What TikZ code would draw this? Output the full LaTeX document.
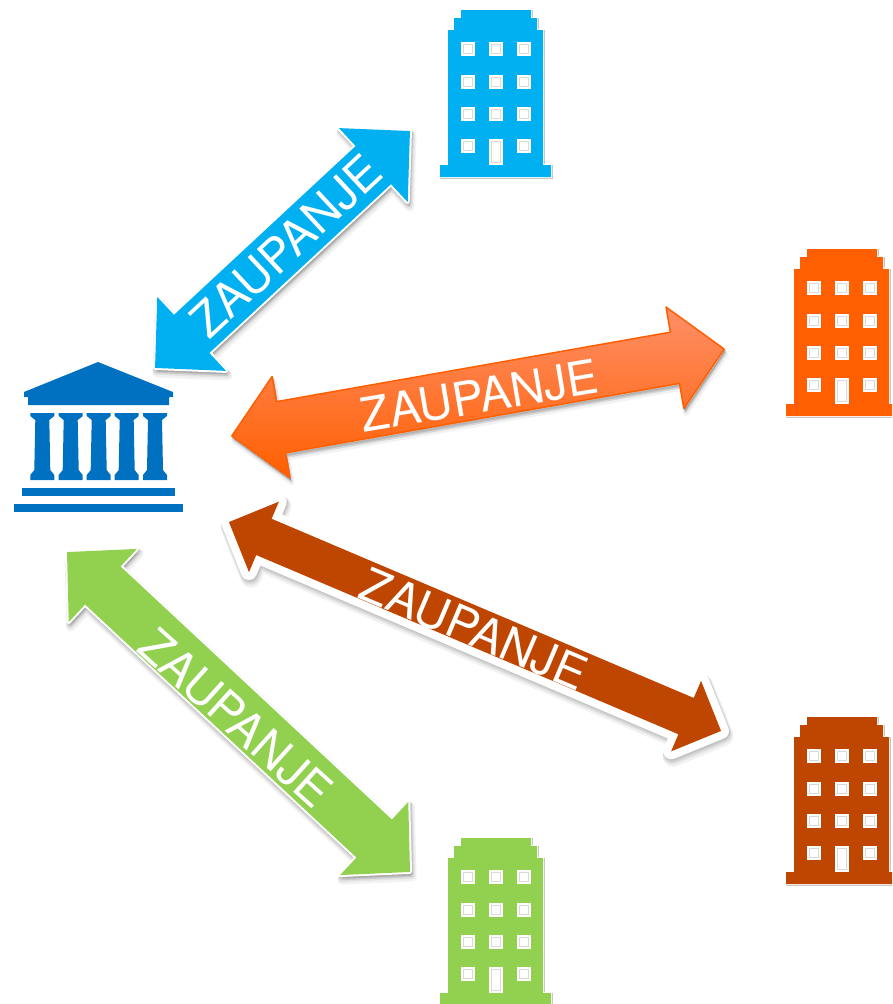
\documentclass[tikz,border=0pt]{standalone}
\usepackage{fontspec}
\setmainfont{TeX Gyre Heros}
\definecolor{cblue}{HTML}{00B0F0}
\definecolor{corange}{HTML}{FF5F00}
\definecolor{corangelt}{HTML}{FF8F68}
\definecolor{cbrown}{HTML}{BF4600}
\definecolor{cgreen}{HTML}{92D050}
\definecolor{ctemple}{HTML}{0070C0}
\newcommand{\arrowoutline}[4]{(-#1,0)--(-#1+#4,-#2)--(-#1+#4,-#3)--(#1-#4,-#3)--(#1-#4,-#2)--(#1,0)--(#1-#4,#2)--(#1-#4,#3)--(-#1+#4,#3)--(-#1+#4,#2)--cycle}
% centre x, centre y, angle, half length, head half width, shaft half width, head length, halo width, fill style
\newcommand{\trustarrow}[9]{%
  \foreach \dx/\dy/\lw/\op in {1/1.5/0/.08,1/2.5/1.5/.07,1.5/3.5/3/.06,2/5/5/.05}{
    \path[fill=black,draw=black,line join=round,line width=#8pt+\lw pt,opacity=\op,
      shift={(#1+\dx,#2+\dy)},rotate=#3] \arrowoutline{#4}{#5}{#6}{#7};
  }
  \path[draw=white,line join=round,line width=#8pt,shift={(#1,#2)},rotate=#3] \arrowoutline{#4}{#5}{#6}{#7};
  \path[#9,line join=round,shift={(#1,#2)},rotate=#3] \arrowoutline{#4}{#5}{#6}{#7};
}
\tikzset{
  trustlabel/.style={inner sep=0pt,text=white,font=\fontsize{47}{47}\selectfont},
  bldg/.pic={
    \def\outline{(21,0)--(91,0)--(91,8)--(97,8)--(97,20)--(103,20)--(103,155)--(111,155)--(111,167)--(0,167)--(0,155)--(8,155)--(8,20)--(14,20)--(14,8)--(21,8)--cycle}
    \draw[gray!45,line width=2pt,shift={(0.8,0.8)}] \outline;
    \draw[white,line width=2.4pt] \outline;
    \fill[#1] \outline;
    \foreach \wx in {21,49,77}{\foreach \wy in {32,65,97,129}{
      \ifnum\wx=49 \ifnum\wy=129 \else
        \fill[white] (\wx,\wy) rectangle +(13.5,13.5);
        \draw[gray!30,line width=.6pt] (\wx+2.5,\wy+2.5) rectangle +(8.5,8.5);
      \fi\else
        \fill[white] (\wx,\wy) rectangle +(13.5,13.5);
        \draw[gray!30,line width=.6pt] (\wx+2.5,\wy+2.5) rectangle +(8.5,8.5);
      \fi}}
    \fill[white] (49,129) rectangle +(13.5,26);
    \draw[gray!30,line width=.6pt] (51.5,131.5) rectangle +(8.5,21);
  }
}
\begin{document}
\begin{tikzpicture}[x=1pt,y=-1pt]
\clip (0,0) rectangle (892,1004);
\fill[white] (0,0) rectangle (892,1004);
% institution
\fill[ctemple] (98,362)--(173,392)--(173,397)--(169,397)--(169,405)--(28,405)--(28,397)--(24,397)--(24,392)--cycle;
\foreach \c in {42.3,70.7,98.7,126.7,155}{
  \fill[ctemple] (\c-12,413)--(\c+12,413)--(\c+12,416)--(\c+7,420)--(\c+8,470)--(\c+12,475)--(\c+12,480)--(\c-12,480)--(\c-12,475)--(\c-8,470)--(\c-7,420)--(\c-12,416)--cycle;
}
\fill[ctemple] (22,488) rectangle (175,496);
\fill[ctemple] (14,504) rectangle (183,512);
% buildings
\path (440,10) pic {bldg=cblue};
\path (786,249) pic {bldg=corange};
\path (786,717) pic {bldg=cbrown};
\path (440,838) pic {bldg=cgreen};
% arrows
\trustarrow{282.5}{249.5}{42.9}{174}{50.5}{26}{50}{4}{fill=cblue}
\trustarrow{478}{392.5}{10}{250}{51.5}{26}{50}{0}{draw=corange,line width=1.5pt,top color=corangelt,bottom color=corange}
\trustarrow{475}{626.5}{-23}{267.3}{38.3}{19.7}{38}{16}{fill=cbrown}
\trustarrow{238.5}{712}{-43}{234.5}{50}{26}{49}{4}{fill=cgreen}
% labels
\node[trustlabel,rotate=43] (labelblue) at (286,246) {ZAUPANJE};
\node[trustlabel,rotate=9.5] (labelorange) at (479.5,396) {ZAUPANJE};
\node[trustlabel,rotate=-23] (labelbrown) at (474,629) {ZAUPANJE};
\node[trustlabel,rotate=-42] (labelgreen) at (236,718) {ZAUPANJE};
\end{tikzpicture}
\end{document}
